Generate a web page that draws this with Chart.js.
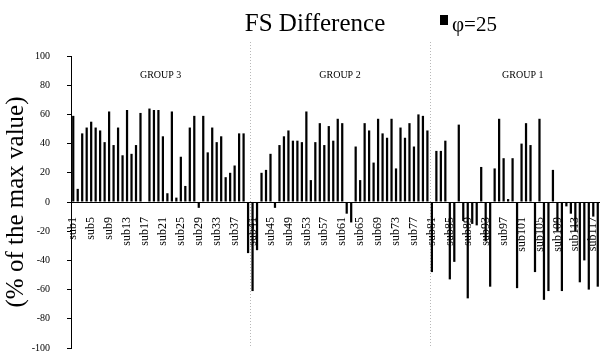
<!DOCTYPE html>
<html lang="en">
<head>
    <meta charset="UTF-8">
    <title>FS Difference</title>
    <script src="https://cdn.jsdelivr.net/npm/chart.js"></script>
    <style>
        body {
            margin: 0;
            background-color: white;
        }
    </style>
</head>
<body>

    <canvas id="myChart" width="600" height="356"></canvas>

    <script>
        // one value per subject, sub1 .. sub118
        const fsDifference = [
            59, 9, 47, 51, 55, 51, 49, 41, 62, 39,
            51, 32, 63, 33, 39, 61, 0, 64, 63, 63,
            45, 6, 62, 3, 31, 11, 51, 59, -4, 59,
            34, 51, 41, 45, 17, 20, 25, 47, 47, -35,
            -61, -33, 20, 22, 33, -4, 39, 45, 49, 42,
            42, 41, 62, 15, 41, 54, 39, 52, 42, 57,
            54, -8, -14, 38, 15, 54, 49, 27, 57, 47,
            44, 57, 23, 51, 44, 54, 38, 60, 59, 49,
            -48, 35, 35, 42, -53, -41, 53, -13, -66, -15,
            -16, 24, -27, -58, 23, 57, 30, 2, 30, -59,
            40, 54, 39, -48, 57, -67, -61, 22, -20, -61,
            -3, -8, -20, -55, -40, -60, -10, -58
        ];
        const subjects = fsDifference.map((_, i) => 'sub' + (i + 1));

        const groupNames = ['GROUP 3', 'GROUP 2', 'GROUP 1'];
        const groupFirst = ['sub1', 'sub41', 'sub81'];

        const yTicks = [-100, -80, -60, -40, -20, 0, 20, 40, 60, 80, 100];

        const chartTitle = 'FS Difference';
        const seriesName = 'φ=25';

        const serif = '"Liberation Serif", "Times New Roman", serif';

        // dotted group dividers, group captions, title and legend
        const decorations = {
            id: 'decorations',
            beforeDatasetsDraw(chart) {
                const { ctx, chartArea, scales: { x } } = chart;
                ctx.save();
                ctx.strokeStyle = '#b8b8b8';
                ctx.lineWidth = 1;
                ctx.setLineDash([1, 2]);
                groupFirst.slice(1).forEach(name => {
                    const i = subjects.indexOf(name);
                    const px = Math.round((x.getPixelForValue(i - 1) + x.getPixelForValue(i)) / 2) + 0.5;
                    ctx.beginPath();
                    ctx.moveTo(px, 42);
                    ctx.lineTo(px, chartArea.bottom);
                    ctx.stroke();
                });
                ctx.restore();
            },
            afterDraw(chart) {
                const { ctx, scales: { x } } = chart;
                ctx.save();
                ctx.fillStyle = 'black';

                // group captions
                ctx.font = '10px ' + serif;
                ctx.textAlign = 'center';
                ctx.textBaseline = 'middle';
                groupFirst.forEach((name, g) => {
                    const start = subjects.indexOf(name);
                    const end = g + 1 < groupFirst.length ? subjects.indexOf(groupFirst[g + 1]) - 1 : subjects.length - 1;
                    const cx = (x.getPixelForValue(start) + x.getPixelForValue(end)) / 2;
                    ctx.fillText(groupNames[g], cx + (g === 2 ? 8 : 0), 75);
                });

                // title
                ctx.font = '25px ' + serif;
                ctx.textBaseline = 'alphabetic';
                ctx.fillText(chartTitle, 315, 31);

                // legend
                ctx.fillRect(440, 15, 8, 10);
                ctx.textAlign = 'left';
                ctx.font = '21px ' + serif;
                ctx.fillText(chart.data.datasets[0].label, 452, 31);
                ctx.restore();
            }
        };

        const ctx = document.getElementById('myChart').getContext('2d');
        const chart = new Chart(ctx, {
            type: 'bar',
            data: {
                labels: subjects,
                datasets: [{
                    label: seriesName,
                    data: fsDifference,
                    backgroundColor: 'black',
                    borderWidth: 0,
                    barPercentage: 0.5,
                    categoryPercentage: 1.0
                }]
            },
            options: {
                responsive: false,
                animation: false,
                layout: {
                    padding: { top: 56, right: 0, bottom: 8, left: 0 }
                },
                plugins: {
                    legend: { display: false },
                    title: { display: false },
                    tooltip: { enabled: false }
                },
                scales: {
                    x: {
                        position: { y: 0 },
                        // the rotated labels must not shrink the plot
                        afterFit: scale => {
                            scale.height = 0;
                            scale.paddingLeft = 0;
                            scale.paddingRight = 0;
                        },
                        grid: { display: false },
                        border: { display: true, color: 'black', width: 1 },
                        ticks: {
                            autoSkip: false,
                            maxRotation: 90,
                            minRotation: 90,
                            padding: 7,
                            color: 'black',
                            font: { family: serif, size: 12 },
                            callback: function (value, index) {
                                return index % 4 === 0 ? subjects[index] : '';
                            }
                        }
                    },
                    y: {
                        min: -100,
                        max: 100,
                        afterFit: scale => {
                            scale.width = 71;
                            scale.paddingTop = 0;
                            scale.paddingBottom = 0;
                        },
                        afterBuildTicks: scale => {
                            scale.ticks = yTicks.map(v => ({ value: v }));
                        },
                        grid: {
                            drawOnChartArea: false,
                            drawTicks: true,
                            tickLength: 4,
                            color: 'black'
                        },
                        border: { display: true, color: 'black', width: 1 },
                        ticks: {
                            padding: 17,
                            color: 'black',
                            font: { family: serif, size: 10 }
                        },
                        title: {
                            display: true,
                            text: '(% of the max value)',
                            color: 'black',
                            font: { family: serif, size: 25 },
                            padding: { top: 1, bottom: 0 }
                        }
                    }
                }
            },
            plugins: [decorations]
        });
    </script>

</body>
</html>
